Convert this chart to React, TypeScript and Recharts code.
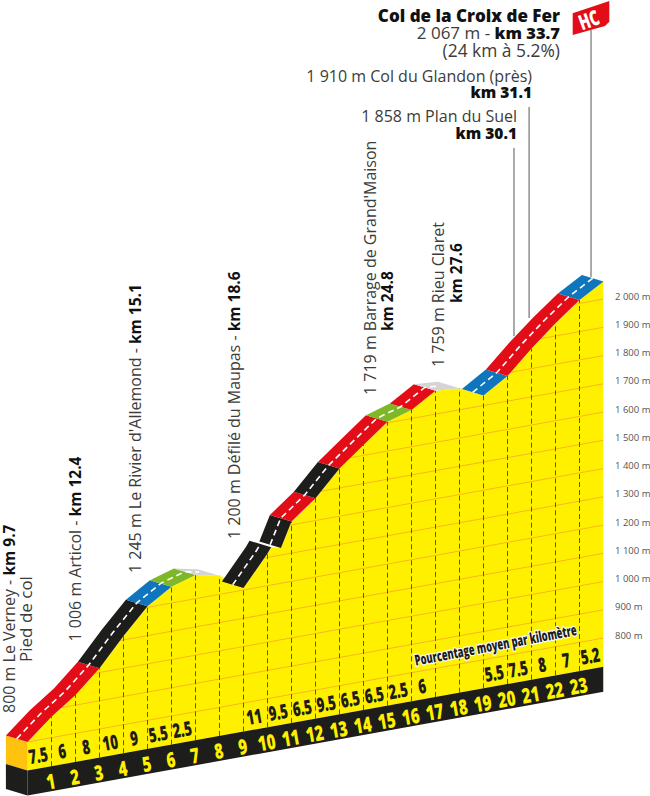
import React from "react";
import { ComposedChart, Area, Line, Scatter, XAxis, YAxis } from "recharts";

// Profile
const profileKm = [0, 1, 2, 3, 4, 5, 6, 7, 8, 9, 10, 10.15, 10.56, 11, 12, 13, 14, 15, 16, 17, 18, 19, 20, 21, 22, 23, 24];
const profileAlt = [800, 874, 936, 1015, 1114, 1204, 1258, 1284, 1266, 1207, 1314, 1334, 1325, 1412, 1479, 1569, 1637, 1704, 1730, 1783, 1776, 1735, 1789, 1871, 1945, 2012, 2062];

const gridLevels = [800, 900, 1000, 1100, 1200, 1300, 1400, 1500, 1600, 1700, 1800, 1900, 2000];
const kmNumbers = [1, 2, 3, 4, 5, 6, 7, 8, 9, 10, 11, 12, 13, 14, 15, 16, 17, 18, 19, 20, 21, 22, 23];
const percentLabels = ["7.5", "6", "8", "10", "9", "5.5", "2.5", "", "", "11", "9.5", "6.5", "9.5", "6.5", "6.5", "2.5", "6", "", "", "5.5", "7.5", "8", "7", "5.2"];

const RED = "#e30d18";
const BLACK = "#1d1d1b";
const BLUE = "#0f75bc";
const GREEN = "#7fb827";
const GREY = "#d4d4d4";

const roadSegments = [
  { from: 0, to: 3, color: RED },
  { from: 3, to: 5, color: BLACK },
  { from: 5, to: 6, color: BLUE },
  { from: 6, to: 7, color: GREEN },
  { from: 7, to: 8, color: GREY },
  { from: 9, to: 10.15, color: BLACK },
  { from: 10.56, to: 11, color: BLACK },
  { from: 11, to: 12, color: RED },
  { from: 12, to: 13, color: BLACK },
  { from: 13, to: 15, color: RED },
  { from: 15, to: 16, color: GREEN },
  { from: 16, to: 17, color: RED },
  { from: 17, to: 18, color: GREY },
  { from: 19, to: 20, color: BLUE },
  { from: 20, to: 23, color: RED },
  { from: 23, to: 24, color: BLUE },
];
const centreRuns = [
  [0, 7.6],
  [9, 10.15],
  [10.56, 17.5],
  [19, 24],
];
const leaders = [
  { km: 20.27, low: 2237, high: 2903 },
  { km: 20.9, low: 2301, high: 3048 },
  { km: 23.48, low: 2446, high: 3320 },
];

const SKEW = 15.33;
const DEPTH_KM = 0.9;
const DEPTH_S = 23;
const BASE = 698.8;
const BAND = 88.5;

const pt = (k: number, alt: number) => ({ x: k, y: alt + SKEW * k });
const back = (k: number, alt: number) => ({ x: k - DEPTH_KM, y: alt + SKEW * k + DEPTH_S });
const mid = (k: number, alt: number) => ({ x: k - DEPTH_KM / 2, y: alt + SKEW * k + DEPTH_S / 2 });

const profile = profileKm.map((k, i) => ({ k, alt: profileAlt[i] }));
const altAt = (k: number) => {
  for (let i = 0; i < profile.length - 1; i++) {
    const a = profile[i];
    const b = profile[i + 1];
    if (k >= a.k && k <= b.k) return a.alt + ((b.alt - a.alt) * (k - a.k)) / (b.k - a.k);
  }
  return profile[profile.length - 1].alt;
};

const yellowData = profile.map((p) => ({ x: p.k, y: [BASE + SKEW * p.k, p.alt + SKEW * p.k] }));

const gridSegments: { x: number; y: number }[][] = [];
gridLevels.forEach((L) => {
  let cur: number[] | null = null;
  for (let i = 0; i < profile.length; i++) {
    const p = profile[i];
    if (p.alt >= L) {
      if (cur === null) {
        if (i === 0) cur = [p.k];
        else {
          const q = profile[i - 1];
          cur = [q.k + ((L - q.alt) * (p.k - q.k)) / (p.alt - q.alt)];
        }
      }
    } else if (cur !== null) {
      const q = profile[i - 1];
      cur.push(q.k + ((L - q.alt) * (p.k - q.k)) / (p.alt - q.alt));
      gridSegments.push(cur.map((k) => pt(k, L)));
      cur = null;
    }
  }
  if (cur !== null) {
    cur.push(24);
    gridSegments.push(cur.map((k) => pt(k, L)));
  }
});

const roadPolys = roadSegments.map((s) => {
  const keys = profileKm.filter((k) => k >= s.from && k <= s.to);
  const front = keys.map((k) => pt(k, altAt(k)));
  const rear = keys.map((k) => back(k, altAt(k))).reverse();
  return { color: s.color, points: [...front, ...rear] };
});
const centreLines = centreRuns.map(([a, b]) => {
  const keys = [a, ...profileKm.filter((k) => k > a && k < b), b];
  return keys.map((k) => mid(k, altAt(k)));
});

const goldFace = [pt(0, 800), pt(0, BASE), back(0, BASE), back(0, 800)];
const blackFace = [pt(0, BASE), pt(0, BASE - BAND), back(0, BASE - BAND), back(0, BASE)];
const band = [pt(0, BASE), pt(24, BASE), pt(24, BASE - BAND), pt(0, BASE - BAND)];

const percentData = percentLabels.map((t, i) => ({ x: i + 0.44, y: BASE + SKEW * (i + 0.44) + 48, t })).filter((d) => d.t);
const kmData = kmNumbers.map((n) => ({ x: n - 0.04, y: BASE + SKEW * n - 50, t: String(n) }));
const noteData = [{ x: 19.5, y: 1143, t: "Pourcentage moyen par kilomètre" }];

const FONT = "'Open Sans', sans-serif";
const GREY_TXT = "#3c3c3b";

const narrow = (fill: string, size: number, sx: number) => (props: any) => (
  <text
    transform={`translate(${props.cx},${props.cy}) rotate(-10) scale(${sx},1)`}
    textAnchor="middle"
    dominantBaseline="central"
    fontFamily={FONT}
    fontWeight={800}
    fontSize={size}
    fill={fill}
  >
    {props.payload?.t ?? props.t}
  </text>
);
const noteShape = (props: any) => (
  <text
    transform={`translate(${props.cx},${props.cy}) rotate(-10.8) scale(0.62,1)`}
    textAnchor="middle"
    dominantBaseline="central"
    fontFamily={FONT}
    fontWeight={800}
    fontSize={15}
    fill={BLACK}
    stroke="#ffffff"
    strokeWidth={2.4}
    paintOrder="stroke"
  >
    {props.payload?.t ?? props.t}
  </text>
);

const noDot = () => null;

const Poly = (points: { x: number; y: number }[], color: string, key: string) => (
  <Scatter key={key} data={points} isAnimationActive={false} shape={noDot} line={{ fill: color, stroke: "none", strokeWidth: 0 }} />
);

const VText = ({ x, y, size = 16, boldSize = 15.5, parts }: any) => (
  <text transform={`translate(${x},${y}) rotate(-90)`} fontFamily={FONT} fontSize={size} fill={GREY_TXT}>
    {parts.map((p: any, i: number) => (
      <tspan key={i} fontWeight={p[1] ? 700 : 400} fontSize={p[1] ? boldSize : size} fill={p[1] ? "#111" : GREY_TXT}>
        {p[0]}
      </tspan>
    ))}
  </text>
);
const HText = ({ x, y, size = 16, boldSize = 15.5, parts }: any) => (
  <text x={x} y={y} fontFamily={FONT} fontSize={size} textAnchor="end" fill={GREY_TXT}>
    {parts.map((p: any, i: number) => (
      <tspan key={i} fontWeight={p[1] ? 800 : 400} fontSize={p[1] ? boldSize : size} fill={p[1] ? "#111" : GREY_TXT}>
        {p[0]}
      </tspan>
    ))}
  </text>
);

const yTicks = gridLevels.map((L) => L + SKEW * 24);
const axisTick = (props: any) => {
  const alt = Math.round(props.payload.value - SKEW * 24);
  const s = String(alt);
  return (
    <text x={615} y={props.y - 3} dominantBaseline="central" fontFamily={FONT} fontSize={9.5} fill="#555">
      {`${s.length > 3 ? s[0] + " " + s.slice(1) : s} m`}
    </text>
  );
};

export default function App() {
  return (
    <div style={{ position: "absolute", left: 0, top: 0, width: 650, height: 796, overflow: "hidden" }}>
      <ComposedChart width={650} height={796} margin={{ top: 0, right: 0, bottom: 0, left: 0 }}>
        <XAxis dataKey="x" type="number" domain={[-27.5 / 24, 24]} hide allowDataOverflow />
        <YAxis
          dataKey="y"
          type="number"
          orientation="right"
          width={46.5}
          domain={[608.85, 3426.5]}
          ticks={yTicks}
          interval={0}
          tick={axisTick}
          tickLine={false}
          axisLine={false}
          allowDataOverflow
        />
        <Area data={yellowData} dataKey="y" type="linear" fill="#fff000" fillOpacity={1} stroke="none" isAnimationActive={false} dot={false} activeDot={false} />
        {gridSegments.map((seg, i) => (
          <Line key={`g${i}`} data={seg} dataKey="y" type="linear" stroke="#f6b81c" strokeWidth={1} dot={false} activeDot={false} isAnimationActive={false} />
        ))}
        {kmNumbers.map((n) => (
          <Line
            key={`d${n}`}
            data={[pt(n, BASE), pt(n, altAt(n))]}
            dataKey="y"
            type="linear"
            stroke="#5f5a1e"
            strokeWidth={1}
            strokeDasharray="5 3"
            dot={false}
            activeDot={false}
            isAnimationActive={false}
          />
        ))}
        {Poly(goldFace, "#ffc20e", "gold")}
        {Poly(blackFace, BLACK, "bf")}
        {Poly(band, BLACK, "band")}
        {roadPolys.map((p, i) => Poly(p.points, p.color, `r${i}`))}
        {centreLines.map((pts, i) => (
          <Scatter
            key={`c${i}`}
            data={pts}
            isAnimationActive={false}
            shape={noDot}
            line={{ stroke: "#ffffff", strokeWidth: 1.6, strokeDasharray: "6 4", fill: "none" }}
          />
        ))}
        {leaders.map((l, i) => (
          <Scatter
            key={`l${i}`}
            data={[
              { x: l.km, y: l.low },
              { x: l.km, y: l.high },
            ]}
            isAnimationActive={false}
            shape={noDot}
            line={{ stroke: "#666666", strokeWidth: 1.1, fill: "none" }}
          />
        ))}
        <Scatter data={percentData} isAnimationActive={false} shape={narrow(BLACK, 20, 0.66)} />
        <Scatter data={kmData} isAnimationActive={false} shape={narrow("#fff000", 21, 0.72)} />
        <Scatter data={noteData} isAnimationActive={false} shape={noteShape} />

        <VText x={15} y={713} parts={[["800 m Le Verney - "], ["km 9.7", 1]]} />
        <VText x={31.5} y={662} size={17} parts={[["Pied de col"]]} />
        <VText x={81} y={641.5} parts={[["1 006 m Articol - "], ["km 12.4", 1]]} />
        <VText x={141} y={573} parts={[["1 245 m Le Rivier d'Allemond - "], ["km 15.1", 1]]} />
        <VText x={240} y={539} parts={[["1 200 m Défilé du Maupas - "], ["km 18.6", 1]]} />
        <VText x={376} y={395} parts={[["1 719 m Barrage de Grand'Maison"]]} />
        <VText x={393} y={331} parts={[["km 24.8", 1]]} />
        <VText x={444} y={367} parts={[["1 759 m Rieu Claret"]]} />
        <VText x={462} y={303} parts={[["km 27.6", 1]]} />

        <HText x={560} y={22} size={17} boldSize={17} parts={[["Col de la Croix de Fer", 1]]} />
        <HText x={560} y={39} size={17} boldSize={16.5} parts={[["2 067 m - "], ["km 33.7", 1]]} />
        <HText x={560} y={56.5} size={17.4} parts={[["(24 km à 5.2%)"]]} />
        <HText x={532} y={81.7} parts={[["1 910 m Col du Glandon (près)"]]} />
        <HText x={532} y={98.3} parts={[["km 31.1", 1]]} />
        <HText x={517} y={122.3} parts={[["1 858 m Plan du Suel"]]} />
        <HText x={517} y={139} parts={[["km 30.1", 1]]} />

        <polygon points="572.7,13.3 609.3,1 609.3,21.7 605,26 572.7,35" fill={RED} />
        <text
          transform="translate(591.5,27) rotate(-20) scale(0.68,1)"
          textAnchor="middle"
          fontFamily={FONT}
          fontWeight={800}
          fontSize={21}
          fill="#fff"
        >
          HC
        </text>
      </ComposedChart>
    </div>
  );
}
